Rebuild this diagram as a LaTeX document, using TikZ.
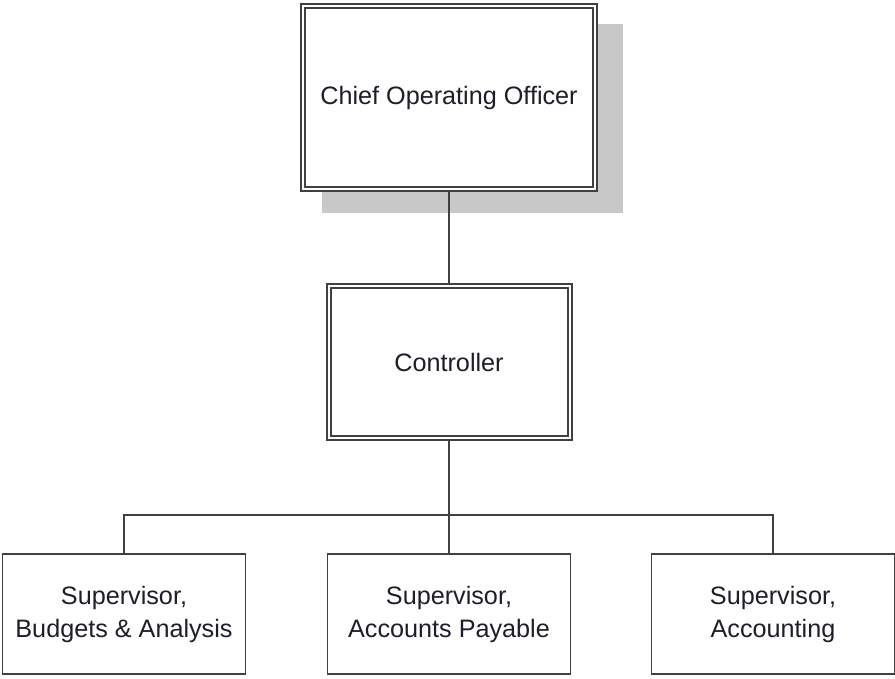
\documentclass[tikz,border=0pt]{standalone}
\usepackage{fontspec}
\setmainfont{Liberation Sans}
\usepackage{tikz}
\usetikzlibrary{shadows, positioning}
\definecolor{edgegray}{RGB}{64,64,64}
\definecolor{shadegray}{RGB}{200,200,200}
\definecolor{inkgray}{RGB}{30,30,40}
\tikzstyle{office} = [draw=edgegray, double=white, double distance=1pt, line width=1pt, fill=white, rectangle, text=inkgray]
\tikzstyle{unit} = [draw=edgegray, line width=0.75pt, fill=white, rectangle, align=center, text=inkgray, minimum width=121.5pt, minimum height=60pt]
\tikzstyle{wire} = [draw=edgegray, line width=0.75pt]

\begin{document}
\begin{tikzpicture}[x=0.5pt, y=-0.5pt, font=\fontsize{12.6}{16.5}\selectfont]
    \useasboundingbox (0,0) rectangle (895,679);
    \node[office, minimum width=146pt, minimum height=91.5pt, drop shadow={shadow xshift=11.5pt, shadow yshift=-10.25pt, shadow scale=1.03, fill=shadegray, opacity=1}] (coo) at (449,97.5) {Chief Operating Officer};
    \node[office, below of=coo, node distance=132.25pt, minimum width=120.5pt, minimum height=76pt] (ctrl) {Controller};
    \node[unit, below of=ctrl, node distance=126pt] (payable) {Supervisor,\\Accounts Payable};
    \node[unit, left of=payable, node distance=162.5pt] (budgets) {Supervisor,\\Budgets \& Analysis};
    \node[unit, right of=payable, node distance=162pt] (accounting) {Supervisor,\\Accounting};
    \coordinate[below=38pt of ctrl.south] (bus);
    \draw[wire] (coo) -- (ctrl);
    \draw[wire] (ctrl) -- (payable);
    \draw[wire] (bus) -| (budgets.north);
    \draw[wire] (bus) -| (accounting.north);
\end{tikzpicture}
\end{document}
